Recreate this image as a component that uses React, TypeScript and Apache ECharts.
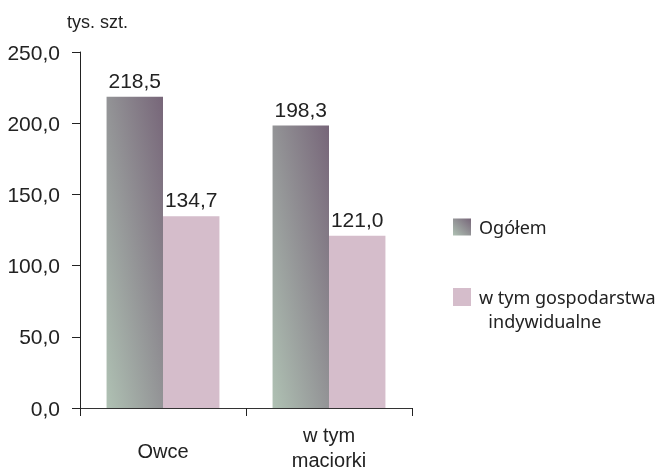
import React, { useEffect, useRef } from "react";
import * as echarts from "echarts";

const categories = ["Owce", "w tym\nmaciorki"];
const seriesNames = ["Ogółem", "w tym gospodarstwa indywidualne"];
const totalValues = [218.5, 198.3];
const individualValues = [134.7, 121.0];
const yTicks = { min: 0, max: 250, interval: 50 };
const unitLabel = "tys. szt.";

const fmt = (v: number) => v.toFixed(1).replace(".", ",");

export default function App() {
  const ref = useRef<HTMLDivElement>(null);
  useEffect(() => {
    if (!ref.current) return;
    const chart = echarts.init(ref.current, null, { renderer: "svg" });
    const grad = new echarts.graphic.LinearGradient(0, 1, 1, 0, [
      { offset: 0, color: "#afc1b3" },
      { offset: 1, color: "#776679" },
    ]);
    const pink = "#d5bdcb";
    const font = "'Liberation Sans', Arial, sans-serif";
    const legendFont = "'Noto Sans', sans-serif";
    chart.setOption({
      animation: false,
      title: {
        text: unitLabel,
        left: 62,
        top: 8,
        textStyle: { fontFamily: font, fontSize: 18, fontWeight: "normal", color: "#222" },
      },
      grid: { left: 80, right: 248, top: 52, bottom: 56, containLabel: false },
      legend: [
        {
          orient: "vertical",
          left: 448,
          top: 213,
          itemWidth: 18,
          itemHeight: 17,
          icon: "rect",
          data: [seriesNames[0]],
          textStyle: {
            fontFamily: legendFont,
            fontSize: 18,
            color: "#222",
            padding: [0, 0, 0, 3],
          },
        },
        {
          orient: "vertical",
          left: 448,
          top: 256,
          itemWidth: 18,
          itemHeight: 18,
          icon: "rect",
          data: [seriesNames[1]],
          formatter: () => "\nw tym gospodarstwa\n  indywidualne",
          textStyle: {
            fontFamily: legendFont,
            fontSize: 18,
            lineHeight: 24,
            color: "#222",
            padding: [0, 0, 0, 3],
          },
        },
      ],
      xAxis: {
        type: "category",
        data: categories.map((c) =>
          c.includes("\n") ? c : { value: c, textStyle: { padding: [16, 0, 0, 0] } }
        ),
        axisLine: { lineStyle: { color: "#333", width: 1 } },
        axisTick: { show: true, length: 8, lineStyle: { color: "#222" } },
        axisLabel: {
          fontFamily: font,
          fontSize: 20,
          lineHeight: 25,
          color: "#222",
          margin: 14,
        },
      },
      yAxis: {
        type: "value",
        min: yTicks.min,
        max: yTicks.max,
        interval: yTicks.interval,
        axisLine: { show: true, lineStyle: { color: "#222" } },
        axisTick: { show: true, length: 8, lineStyle: { color: "#222" } },
        splitLine: { show: false },
        axisLabel: {
          fontFamily: font,
          fontSize: 21,
          color: "#222",
          margin: 20,
          formatter: (v: number) => fmt(v),
        },
      },
      series: [
        {
          name: seriesNames[0],
          type: "bar",
          data: totalValues,
          barGap: "0%",
          barCategoryGap: "32%",
          itemStyle: { color: grad },
          label: {
            show: true,
            position: "top",
            distance: 6,
            fontFamily: font,
            fontSize: 21,
            color: "#222",
            formatter: (p: any) => fmt(p.value),
          },
        },
        {
          name: seriesNames[1],
          type: "bar",
          data: individualValues,
          itemStyle: { color: pink },
          label: {
            show: true,
            position: "top",
            distance: 6,
            fontFamily: font,
            fontSize: 21,
            color: "#222",
            formatter: (p: any) => fmt(p.value),
          },
        },
      ],
    });
    return () => chart.dispose();
  }, []);
  return (
    <div
      ref={ref}
      style={{ position: "fixed", left: 0, top: 0, width: 660, height: 472 }}
    />
  );
}
